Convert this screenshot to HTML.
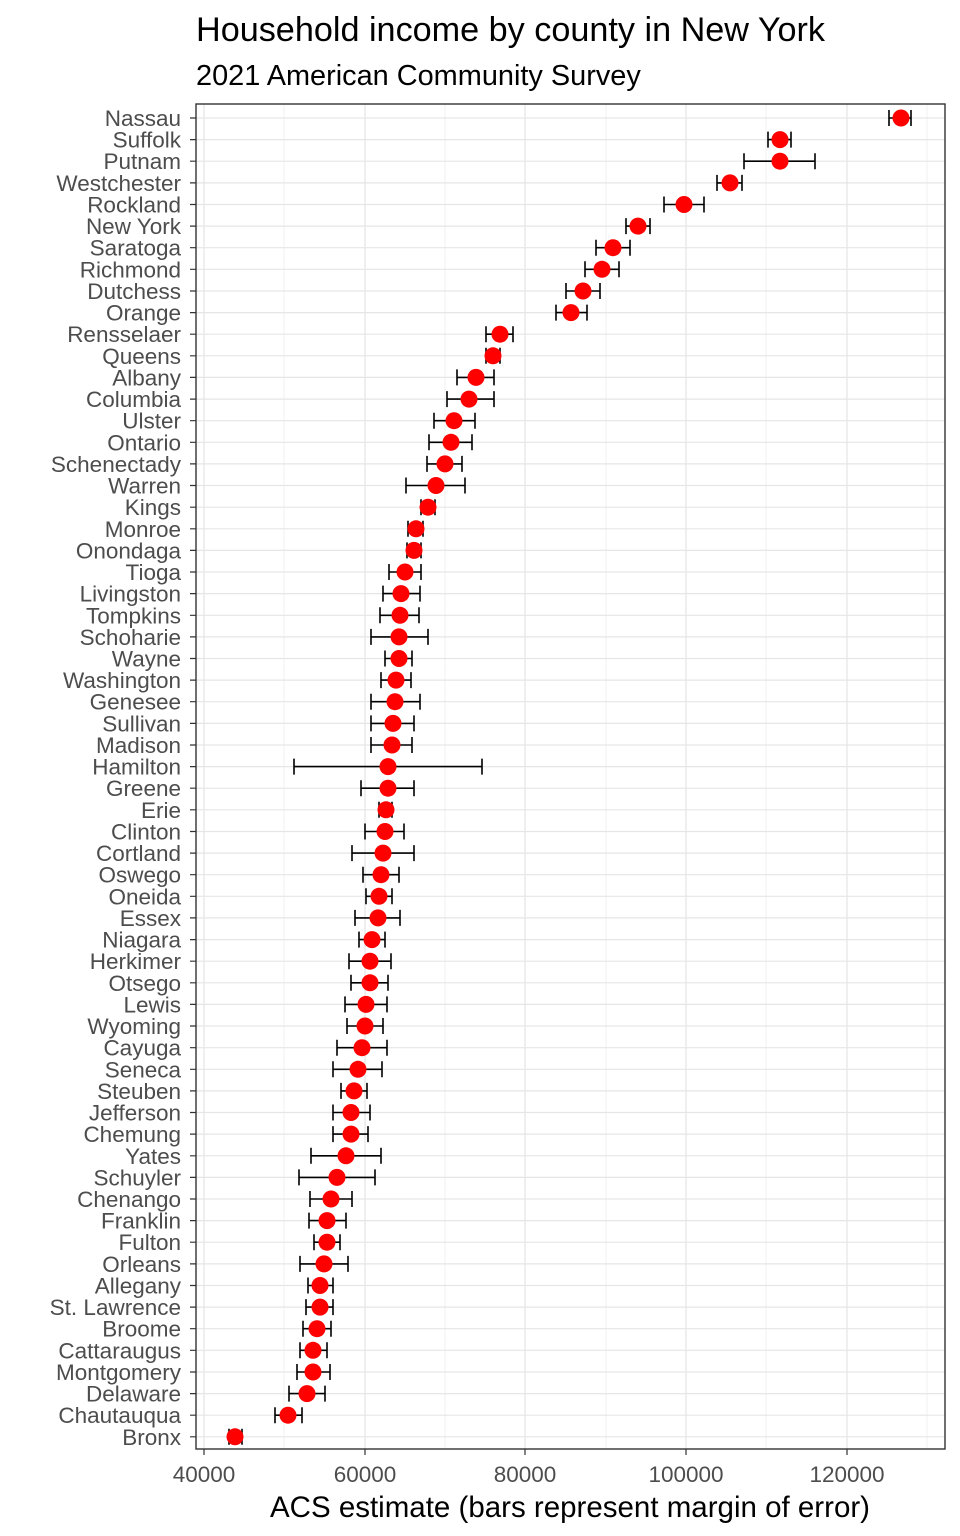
<!DOCTYPE html>
<html><head><meta charset="utf-8"><style>
html,body{margin:0;padding:0;background:#fff;}
svg{display:block;font-family:"Liberation Sans",Arial,sans-serif;}
.lab text{font-size:22.5px;fill:#4d4d4d;text-anchor:end;}
.r line.g{stroke:#e6e6e6;stroke-width:1.2;}
.r path{stroke:#000;stroke-width:1.6;fill:none;}
.r circle{fill:#ff0000;}
</style></head><body>
<svg width="960" height="1536" viewBox="0 0 960 1536">
<rect width="960" height="1536" fill="#fff"/>
<text x="196" y="41" font-size="34.2" fill="#000">Household income by county in New York</text>
<text x="196" y="85" font-size="28.9" fill="#000">2021 American Community Survey</text>
<g stroke="#f0f0f0" stroke-width="0.9">
<line x1="284" y1="104" x2="284" y2="1449"/><line x1="445" y1="104" x2="445" y2="1449"/><line x1="606" y1="104" x2="606" y2="1449"/><line x1="766" y1="104" x2="766" y2="1449"/><line x1="927" y1="104" x2="927" y2="1449"/>
</g>
<g stroke="#e6e6e6" stroke-width="1.3">
<line x1="204" y1="104" x2="204" y2="1449"/><line x1="365" y1="104" x2="365" y2="1449"/><line x1="525" y1="104" x2="525" y2="1449"/><line x1="686" y1="104" x2="686" y2="1449"/><line x1="847" y1="104" x2="847" y2="1449"/>
</g>
<g class="r lab">
<g transform="translate(0,118)"><line class="g" x1="196" x2="945"/><text x="181" y="8">Nassau</text><path d="M889 0H911M889-8V8M911-8V8"/><circle cx="901" r="8.5"/></g>
<g transform="translate(0,139.6)"><line class="g" x1="196" x2="945"/><text x="181" y="8">Suffolk</text><path d="M768 0H791M768-8V8M791-8V8"/><circle cx="780" r="8.5"/></g>
<g transform="translate(0,161.2)"><line class="g" x1="196" x2="945"/><text x="181" y="8">Putnam</text><path d="M744 0H815M744-8V8M815-8V8"/><circle cx="780" r="8.5"/></g>
<g transform="translate(0,182.9)"><line class="g" x1="196" x2="945"/><text x="181" y="8">Westchester</text><path d="M717 0H742M717-8V8M742-8V8"/><circle cx="730" r="8.5"/></g>
<g transform="translate(0,204.5)"><line class="g" x1="196" x2="945"/><text x="181" y="8">Rockland</text><path d="M664 0H704M664-8V8M704-8V8"/><circle cx="684" r="8.5"/></g>
<g transform="translate(0,226.1)"><line class="g" x1="196" x2="945"/><text x="181" y="8">New York</text><path d="M626 0H650M626-8V8M650-8V8"/><circle cx="638" r="8.5"/></g>
<g transform="translate(0,247.7)"><line class="g" x1="196" x2="945"/><text x="181" y="8">Saratoga</text><path d="M596 0H630M596-8V8M630-8V8"/><circle cx="613" r="8.5"/></g>
<g transform="translate(0,269.3)"><line class="g" x1="196" x2="945"/><text x="181" y="8">Richmond</text><path d="M585 0H619M585-8V8M619-8V8"/><circle cx="602" r="8.5"/></g>
<g transform="translate(0,291)"><line class="g" x1="196" x2="945"/><text x="181" y="8">Dutchess</text><path d="M566 0H600M566-8V8M600-8V8"/><circle cx="583" r="8.5"/></g>
<g transform="translate(0,312.6)"><line class="g" x1="196" x2="945"/><text x="181" y="8">Orange</text><path d="M556 0H587M556-8V8M587-8V8"/><circle cx="571" r="8.5"/></g>
<g transform="translate(0,334.2)"><line class="g" x1="196" x2="945"/><text x="181" y="8">Rensselaer</text><path d="M486 0H513M486-8V8M513-8V8"/><circle cx="500" r="8.5"/></g>
<g transform="translate(0,355.8)"><line class="g" x1="196" x2="945"/><text x="181" y="8">Queens</text><path d="M486 0H500M486-8V8M500-8V8"/><circle cx="493" r="8.5"/></g>
<g transform="translate(0,377.4)"><line class="g" x1="196" x2="945"/><text x="181" y="8">Albany</text><path d="M457 0H494M457-8V8M494-8V8"/><circle cx="476" r="8.5"/></g>
<g transform="translate(0,399.1)"><line class="g" x1="196" x2="945"/><text x="181" y="8">Columbia</text><path d="M447 0H494M447-8V8M494-8V8"/><circle cx="469" r="8.5"/></g>
<g transform="translate(0,420.7)"><line class="g" x1="196" x2="945"/><text x="181" y="8">Ulster</text><path d="M434 0H475M434-8V8M475-8V8"/><circle cx="454" r="8.5"/></g>
<g transform="translate(0,442.3)"><line class="g" x1="196" x2="945"/><text x="181" y="8">Ontario</text><path d="M429 0H472M429-8V8M472-8V8"/><circle cx="451" r="8.5"/></g>
<g transform="translate(0,463.9)"><line class="g" x1="196" x2="945"/><text x="181" y="8">Schenectady</text><path d="M427 0H462M427-8V8M462-8V8"/><circle cx="445" r="8.5"/></g>
<g transform="translate(0,485.5)"><line class="g" x1="196" x2="945"/><text x="181" y="8">Warren</text><path d="M406 0H465M406-8V8M465-8V8"/><circle cx="436" r="8.5"/></g>
<g transform="translate(0,507.2)"><line class="g" x1="196" x2="945"/><text x="181" y="8">Kings</text><path d="M421 0H435M421-8V8M435-8V8"/><circle cx="428" r="8.5"/></g>
<g transform="translate(0,528.8)"><line class="g" x1="196" x2="945"/><text x="181" y="8">Monroe</text><path d="M408 0H423M408-8V8M423-8V8"/><circle cx="416" r="8.5"/></g>
<g transform="translate(0,550.4)"><line class="g" x1="196" x2="945"/><text x="181" y="8">Onondaga</text><path d="M407 0H421M407-8V8M421-8V8"/><circle cx="414" r="8.5"/></g>
<g transform="translate(0,572)"><line class="g" x1="196" x2="945"/><text x="181" y="8">Tioga</text><path d="M389 0H421M389-8V8M421-8V8"/><circle cx="405" r="8.5"/></g>
<g transform="translate(0,593.6)"><line class="g" x1="196" x2="945"/><text x="181" y="8">Livingston</text><path d="M383 0H420M383-8V8M420-8V8"/><circle cx="401" r="8.5"/></g>
<g transform="translate(0,615.3)"><line class="g" x1="196" x2="945"/><text x="181" y="8">Tompkins</text><path d="M380 0H419M380-8V8M419-8V8"/><circle cx="400" r="8.5"/></g>
<g transform="translate(0,636.9)"><line class="g" x1="196" x2="945"/><text x="181" y="8">Schoharie</text><path d="M371 0H428M371-8V8M428-8V8"/><circle cx="399" r="8.5"/></g>
<g transform="translate(0,658.5)"><line class="g" x1="196" x2="945"/><text x="181" y="8">Wayne</text><path d="M385 0H412M385-8V8M412-8V8"/><circle cx="399" r="8.5"/></g>
<g transform="translate(0,680.1)"><line class="g" x1="196" x2="945"/><text x="181" y="8">Washington</text><path d="M381 0H411M381-8V8M411-8V8"/><circle cx="396" r="8.5"/></g>
<g transform="translate(0,701.7)"><line class="g" x1="196" x2="945"/><text x="181" y="8">Genesee</text><path d="M371 0H420M371-8V8M420-8V8"/><circle cx="395" r="8.5"/></g>
<g transform="translate(0,723.4)"><line class="g" x1="196" x2="945"/><text x="181" y="8">Sullivan</text><path d="M371 0H414M371-8V8M414-8V8"/><circle cx="393" r="8.5"/></g>
<g transform="translate(0,745)"><line class="g" x1="196" x2="945"/><text x="181" y="8">Madison</text><path d="M371 0H412M371-8V8M412-8V8"/><circle cx="392" r="8.5"/></g>
<g transform="translate(0,766.6)"><line class="g" x1="196" x2="945"/><text x="181" y="8">Hamilton</text><path d="M294 0H482M294-8V8M482-8V8"/><circle cx="388" r="8.5"/></g>
<g transform="translate(0,788.2)"><line class="g" x1="196" x2="945"/><text x="181" y="8">Greene</text><path d="M361 0H414M361-8V8M414-8V8"/><circle cx="388" r="8.5"/></g>
<g transform="translate(0,809.8)"><line class="g" x1="196" x2="945"/><text x="181" y="8">Erie</text><path d="M379 0H392M379-8V8M392-8V8"/><circle cx="386" r="8.5"/></g>
<g transform="translate(0,831.5)"><line class="g" x1="196" x2="945"/><text x="181" y="8">Clinton</text><path d="M365 0H404M365-8V8M404-8V8"/><circle cx="385" r="8.5"/></g>
<g transform="translate(0,853.1)"><line class="g" x1="196" x2="945"/><text x="181" y="8">Cortland</text><path d="M352 0H414M352-8V8M414-8V8"/><circle cx="383" r="8.5"/></g>
<g transform="translate(0,874.7)"><line class="g" x1="196" x2="945"/><text x="181" y="8">Oswego</text><path d="M363 0H399M363-8V8M399-8V8"/><circle cx="381" r="8.5"/></g>
<g transform="translate(0,896.3)"><line class="g" x1="196" x2="945"/><text x="181" y="8">Oneida</text><path d="M366 0H392M366-8V8M392-8V8"/><circle cx="379" r="8.5"/></g>
<g transform="translate(0,917.9)"><line class="g" x1="196" x2="945"/><text x="181" y="8">Essex</text><path d="M355 0H400M355-8V8M400-8V8"/><circle cx="378" r="8.5"/></g>
<g transform="translate(0,939.6)"><line class="g" x1="196" x2="945"/><text x="181" y="8">Niagara</text><path d="M359 0H385M359-8V8M385-8V8"/><circle cx="372" r="8.5"/></g>
<g transform="translate(0,961.2)"><line class="g" x1="196" x2="945"/><text x="181" y="8">Herkimer</text><path d="M349 0H391M349-8V8M391-8V8"/><circle cx="370" r="8.5"/></g>
<g transform="translate(0,982.8)"><line class="g" x1="196" x2="945"/><text x="181" y="8">Otsego</text><path d="M351 0H388M351-8V8M388-8V8"/><circle cx="370" r="8.5"/></g>
<g transform="translate(0,1004.4)"><line class="g" x1="196" x2="945"/><text x="181" y="8">Lewis</text><path d="M345 0H387M345-8V8M387-8V8"/><circle cx="366" r="8.5"/></g>
<g transform="translate(0,1026)"><line class="g" x1="196" x2="945"/><text x="181" y="8">Wyoming</text><path d="M347 0H383M347-8V8M383-8V8"/><circle cx="365" r="8.5"/></g>
<g transform="translate(0,1047.7)"><line class="g" x1="196" x2="945"/><text x="181" y="8">Cayuga</text><path d="M337 0H387M337-8V8M387-8V8"/><circle cx="362" r="8.5"/></g>
<g transform="translate(0,1069.3)"><line class="g" x1="196" x2="945"/><text x="181" y="8">Seneca</text><path d="M333 0H382M333-8V8M382-8V8"/><circle cx="358" r="8.5"/></g>
<g transform="translate(0,1090.9)"><line class="g" x1="196" x2="945"/><text x="181" y="8">Steuben</text><path d="M341 0H367M341-8V8M367-8V8"/><circle cx="354" r="8.5"/></g>
<g transform="translate(0,1112.5)"><line class="g" x1="196" x2="945"/><text x="181" y="8">Jefferson</text><path d="M333 0H370M333-8V8M370-8V8"/><circle cx="351" r="8.5"/></g>
<g transform="translate(0,1134.1)"><line class="g" x1="196" x2="945"/><text x="181" y="8">Chemung</text><path d="M333 0H368M333-8V8M368-8V8"/><circle cx="351" r="8.5"/></g>
<g transform="translate(0,1155.8)"><line class="g" x1="196" x2="945"/><text x="181" y="8">Yates</text><path d="M311 0H381M311-8V8M381-8V8"/><circle cx="346" r="8.5"/></g>
<g transform="translate(0,1177.4)"><line class="g" x1="196" x2="945"/><text x="181" y="8">Schuyler</text><path d="M299 0H375M299-8V8M375-8V8"/><circle cx="337" r="8.5"/></g>
<g transform="translate(0,1199)"><line class="g" x1="196" x2="945"/><text x="181" y="8">Chenango</text><path d="M310 0H352M310-8V8M352-8V8"/><circle cx="331" r="8.5"/></g>
<g transform="translate(0,1220.6)"><line class="g" x1="196" x2="945"/><text x="181" y="8">Franklin</text><path d="M309 0H346M309-8V8M346-8V8"/><circle cx="327" r="8.5"/></g>
<g transform="translate(0,1242.2)"><line class="g" x1="196" x2="945"/><text x="181" y="8">Fulton</text><path d="M314 0H340M314-8V8M340-8V8"/><circle cx="327" r="8.5"/></g>
<g transform="translate(0,1263.9)"><line class="g" x1="196" x2="945"/><text x="181" y="8">Orleans</text><path d="M300 0H348M300-8V8M348-8V8"/><circle cx="324" r="8.5"/></g>
<g transform="translate(0,1285.5)"><line class="g" x1="196" x2="945"/><text x="181" y="8">Allegany</text><path d="M308 0H333M308-8V8M333-8V8"/><circle cx="320" r="8.5"/></g>
<g transform="translate(0,1307.1)"><line class="g" x1="196" x2="945"/><text x="181" y="8">St. Lawrence</text><path d="M306 0H333M306-8V8M333-8V8"/><circle cx="320" r="8.5"/></g>
<g transform="translate(0,1328.7)"><line class="g" x1="196" x2="945"/><text x="181" y="8">Broome</text><path d="M303 0H331M303-8V8M331-8V8"/><circle cx="317" r="8.5"/></g>
<g transform="translate(0,1350.3)"><line class="g" x1="196" x2="945"/><text x="181" y="8">Cattaraugus</text><path d="M300 0H327M300-8V8M327-8V8"/><circle cx="313" r="8.5"/></g>
<g transform="translate(0,1372)"><line class="g" x1="196" x2="945"/><text x="181" y="8">Montgomery</text><path d="M297 0H330M297-8V8M330-8V8"/><circle cx="313" r="8.5"/></g>
<g transform="translate(0,1393.6)"><line class="g" x1="196" x2="945"/><text x="181" y="8">Delaware</text><path d="M289 0H325M289-8V8M325-8V8"/><circle cx="307" r="8.5"/></g>
<g transform="translate(0,1415.2)"><line class="g" x1="196" x2="945"/><text x="181" y="8">Chautauqua</text><path d="M275 0H302M275-8V8M302-8V8"/><circle cx="288" r="8.5"/></g>
<g transform="translate(0,1436.8)"><line class="g" x1="196" x2="945"/><text x="181" y="8">Bronx</text><path d="M229 0H242M229-8V8M242-8V8"/><circle cx="235" r="8.5"/></g>
</g>
<g stroke="#333" stroke-width="1.2">
<path d="M190 118H196M190 139.6H196M190 161.2H196M190 182.9H196M190 204.5H196M190 226.1H196M190 247.7H196M190 269.3H196M190 291H196M190 312.6H196M190 334.2H196M190 355.8H196M190 377.4H196M190 399.1H196M190 420.7H196M190 442.3H196M190 463.9H196M190 485.5H196M190 507.2H196M190 528.8H196M190 550.4H196M190 572H196M190 593.6H196M190 615.3H196M190 636.9H196M190 658.5H196M190 680.1H196M190 701.7H196M190 723.4H196M190 745H196M190 766.6H196M190 788.2H196M190 809.8H196M190 831.5H196M190 853.1H196M190 874.7H196M190 896.3H196M190 917.9H196M190 939.6H196M190 961.2H196M190 982.8H196M190 1004.4H196M190 1026H196M190 1047.7H196M190 1069.3H196M190 1090.9H196M190 1112.5H196M190 1134.1H196M190 1155.8H196M190 1177.4H196M190 1199H196M190 1220.6H196M190 1242.2H196M190 1263.9H196M190 1285.5H196M190 1307.1H196M190 1328.7H196M190 1350.3H196M190 1372H196M190 1393.6H196M190 1415.2H196M190 1436.8H196"/>
<path d="M204 1449V1455M365 1449V1455M525 1449V1455M686 1449V1455M847 1449V1455"/>
</g>
<rect x="196" y="104" width="749" height="1345" fill="none" stroke="#333" stroke-width="1.4"/>
<g font-size="22.5" fill="#4d4d4d" text-anchor="middle">
<text x="204" y="1482">40000</text><text x="365" y="1482">60000</text><text x="525" y="1482">80000</text><text x="686" y="1482">100000</text><text x="847" y="1482">120000</text>
</g>
<text x="570" y="1517" font-size="29.5" fill="#000" text-anchor="middle">ACS estimate (bars represent margin of error)</text>
</svg>
</body></html>
